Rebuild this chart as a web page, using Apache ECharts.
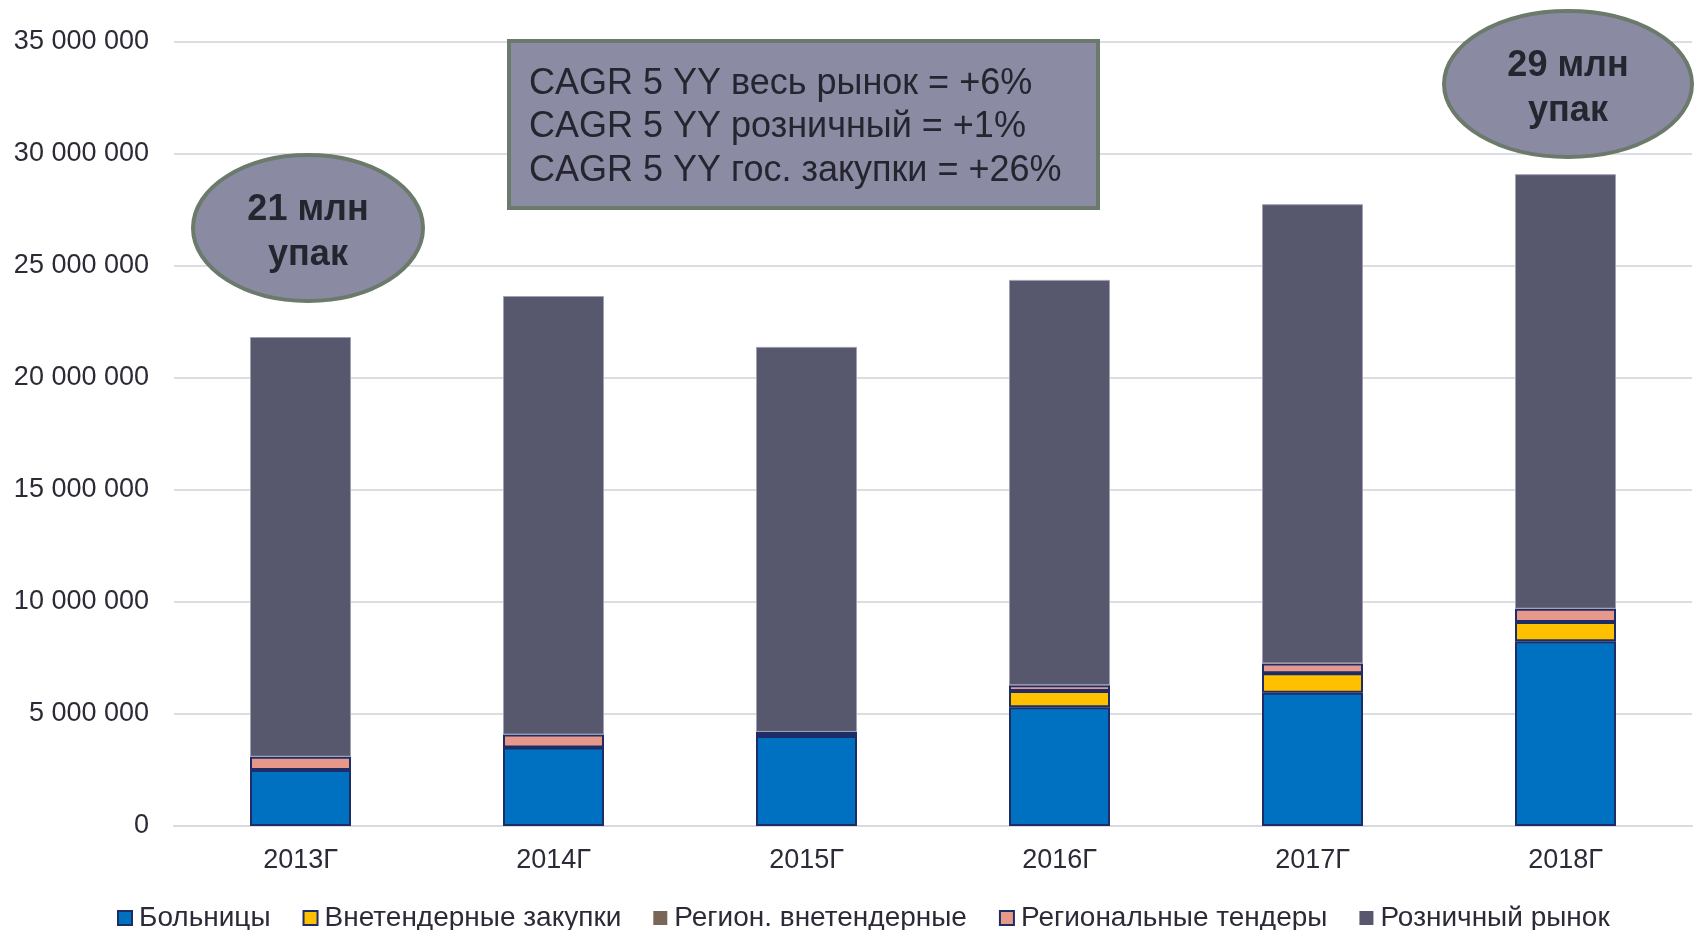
<!DOCTYPE html>
<html>
<head>
<meta charset="utf-8">
<script src="https://cdn.jsdelivr.net/npm/echarts@6/dist/echarts.min.js"></script>
<style>
html,body{margin:0;padding:0;background:#fff;}
#chart{width:1694px;height:930px;}
</style>
</head>
<body>
<div id="chart"></div>
<script>
const categories = ['2013Г', '2014Г', '2015Г', '2016Г', '2017Г', '2018Г'];
const hospitals = [2500000, 3510000, 4020000, 5300000, 5950000, 8250000];
const offTender = [0, 0, 0, 730000, 870000, 860000];
const regionOffTender = [0, 0, 0, 0, 0, 0];
const regionalTenders = [590000, 570000, 180000, 250000, 440000, 590000];
const retail = [18740000, 19580000, 17190000, 18100000, 20500000, 19400000];
const seriesNames = ['Больницы', 'Внетендерные закупки', 'Регион. внетендерные', 'Региональные тендеры', 'Розничный рынок'];
const yTicks = [0, 5000000, 10000000, 15000000, 20000000, 25000000, 30000000, 35000000];
const cagrLines = ['CAGR 5 YY весь рынок = +6%', 'CAGR 5 YY розничный = +1%', 'CAGR 5 YY гос. закупки = +26%'];
const bubble2013 = '21 млн\nупак';
const bubble2018 = '29 млн\nупак';

const FONT = '"Liberation Sans", Arial, sans-serif';
const chart = echarts.init(document.getElementById('chart'), null, {renderer: 'canvas'});

function fmt(v){ return String(v).replace(/\B(?=(\d{3})+(?!\d))/g, ' '); }

const colors = ['#0070C0', '#FFC000', '#7A6657', '#E6998B', '#57576E'];
const borders = ['#1F2D66', '#1F2D66', '#1F2D66', '#1F2D66', '#A0A0B4'];
const datas = [hospitals, offTender, regionOffTender, regionalTenders, retail];

const series = seriesNames.map((n, i) => ({
  name: n,
  type: 'bar',
  stack: 'total',
  barWidth: 101,
  data: datas[i],
  itemStyle: {color: colors[i], borderColor: borders[i], borderWidth: i === 4 ? 1 : 2},
  emphasis: {disabled: true}
}));

const legendIcons = {
  'Больницы': {color: '#0070C0', borderColor: '#1F2D66', borderWidth: 2},
  'Внетендерные закупки': {color: '#FFC000', borderColor: '#1F2D66', borderWidth: 2},
  'Регион. внетендерные': {color: '#7A6657', borderWidth: 0},
  'Региональные тендеры': {color: '#E6998B', borderColor: '#1F2D66', borderWidth: 2},
  'Розничный рынок': {color: '#57576E', borderWidth: 0}
};

chart.setOption({
  animation: false,
  backgroundColor: '#ffffff',
  grid: {left: 174, right: 2, top: 42, bottom: 104, containLabel: false},
  legend: {
    data: seriesNames.map(n => ({name: n, itemStyle: legendIcons[n]})),
    left: 112,
    top: 899,
    itemWidth: 14,
    itemHeight: 14,
    itemGap: 32,
    icon: 'rect',
    textStyle: {fontFamily: FONT, fontSize: 28, color: '#2B2B38', padding: [0, 0, 0, 2]}
  },
  xAxis: {
    type: 'category',
    data: categories,
    axisLine: {lineStyle: {color: '#D9D9E0', width: 2}},
    axisTick: {show: false},
    axisLabel: {fontFamily: FONT, fontSize: 27, color: '#2B2B38', margin: 21}
  },
  yAxis: {
    type: 'value',
    min: yTicks[0],
    max: yTicks[yTicks.length - 1],
    interval: yTicks[1] - yTicks[0],
    axisLine: {show: false},
    axisTick: {show: false},
    splitLine: {lineStyle: {color: '#DCDCE3', width: 2}},
    axisLabel: {fontFamily: FONT, fontSize: 27, color: '#2B2B38', margin: 25, formatter: v => fmt(v)}
  },
  series: series,
  graphic: [
    {
      type: 'rect', z: 100,
      shape: {x: 509, y: 41, width: 589, height: 167},
      style: {fill: '#8B8BA3', stroke: '#6B7A6B', lineWidth: 4}
    },
    {
      type: 'text', z: 101, left: 529, top: 62,
      style: {text: cagrLines.join('\n'), font: '36px ' + FONT, fill: '#25252F', lineHeight: 43.5}
    },
    {
      type: 'ellipse', z: 100,
      shape: {cx: 308, cy: 228, rx: 115, ry: 73},
      style: {fill: '#8A8AA2', stroke: '#6B7A6B', lineWidth: 4}
    },
    {
      type: 'text', z: 101, x: 308, y: 233,
      style: {text: bubble2013, font: 'bold 36px ' + FONT, fill: '#25252F', align: 'center', verticalAlign: 'middle', lineHeight: 45}
    },
    {
      type: 'ellipse', z: 100,
      shape: {cx: 1568, cy: 84, rx: 124, ry: 73},
      style: {fill: '#8A8AA2', stroke: '#6B7A6B', lineWidth: 4}
    },
    {
      type: 'text', z: 101, x: 1568, y: 89,
      style: {text: bubble2018, font: 'bold 36px ' + FONT, fill: '#25252F', align: 'center', verticalAlign: 'middle', lineHeight: 45}
    }
  ]
});
</script>
</body>
</html>
